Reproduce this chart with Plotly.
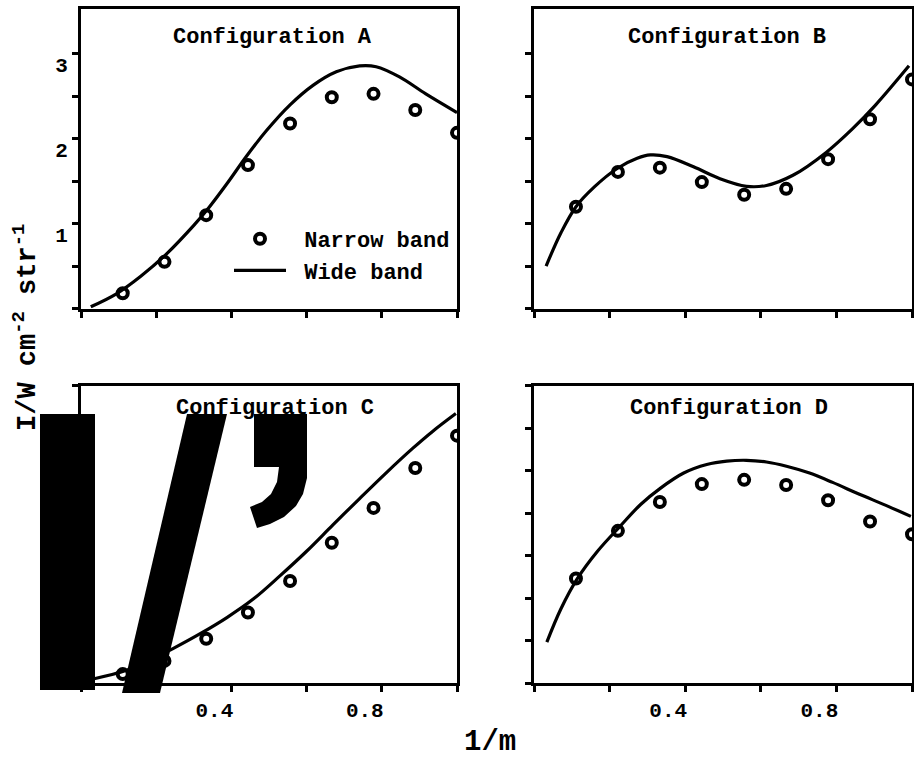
import plotly.graph_objects as go

# ---------------- data ----------------
x_pts = [0.111, 0.222, 0.333, 0.444, 0.556, 0.667, 0.778, 0.889, 1.0]

narrow_A = [0.18, 0.55, 1.10, 1.69, 2.18, 2.49, 2.53, 2.34, 2.07]
narrow_B = [1.20, 1.61, 1.66, 1.49, 1.34, 1.41, 1.76, 2.23, 2.70]
narrow_C = [0.105, 0.26, 0.52, 0.83, 1.20, 1.65, 2.06, 2.53, 2.91]
narrow_D = [1.23, 1.79, 2.13, 2.34, 2.39, 2.33, 2.15, 1.90, 1.75]

wide_A_x = [0.026, 0.093, 0.159, 0.229, 0.300, 0.335, 0.388, 0.441, 0.494,
            0.556, 0.617, 0.679, 0.741, 0.785, 0.847, 0.917, 1.0]
wide_A_y = [0.02, 0.17, 0.38, 0.65, 0.98, 1.16, 1.47, 1.80, 2.10,
            2.40, 2.63, 2.79, 2.86, 2.85, 2.73, 2.53, 2.31]

wide_B_x = [0.032, 0.071, 0.111, 0.159, 0.220, 0.273, 0.308, 0.352, 0.422,
            0.492, 0.562, 0.615, 0.685, 0.773, 0.843, 0.904, 0.992]
wide_B_y = [0.50, 0.89, 1.20, 1.43, 1.65, 1.77, 1.81, 1.79, 1.67,
            1.53, 1.44, 1.45, 1.57, 1.84, 2.12, 2.40, 2.86]

wide_C_x = [0.035, 0.115, 0.176, 0.247, 0.317, 0.388, 0.459, 0.529, 0.600,
            0.670, 0.741, 0.811, 0.882, 0.935, 0.997]
wide_C_y = [0.05, 0.14, 0.25, 0.41, 0.58, 0.77, 0.99, 1.26, 1.55,
            1.86, 2.17, 2.47, 2.76, 2.96, 3.17]

wide_D_x = [0.034, 0.071, 0.115, 0.168, 0.227, 0.282, 0.334, 0.396, 0.457,
            0.510, 0.562, 0.615, 0.668, 0.729, 0.790, 0.861, 0.931, 0.997]
wide_D_y = [0.48, 0.87, 1.23, 1.55, 1.84, 2.10, 2.29, 2.47, 2.57,
            2.61, 2.62, 2.60, 2.55, 2.47, 2.36, 2.22, 2.09, 1.96]

panel_titles = ["Configuration A", "Configuration B", "Configuration C", "Configuration D"]
series_names = [" Narrow band", " Wide band"]
x_tickvals = [0, 0.2, 0.4, 0.6, 0.8, 1.0]
x_ticktext = ["", "", "0.4", "", "0.8", ""]
y_tickvals_top = [0, 0.5, 1, 1.5, 2, 2.5, 3]
y_ticktext_top = ["", "", "1", "", "2", "", "3"]
y_tickvals_bottom = [0, 0.5, 1, 1.5, 2, 2.5, 3, 3.5]
y_title = "I/W cm<sup>-2</sup> str<sup>-1</sup>"
x_title = "1/m"

# ---------------- figure ----------------
W, H = 914, 759
FONT = "Liberation Mono"

def px(x):
    return x / W

def py(y):
    return 1 - y / H

fig = go.Figure()

panels = [
    ("x", "y", wide_A_x, wide_A_y, narrow_A),
    ("x2", "y2", wide_B_x, wide_B_y, narrow_B),
    ("x3", "y3", wide_C_x, wide_C_y, narrow_C),
    ("x4", "y4", wide_D_x, wide_D_y, narrow_D),
]
for i, (xa, ya, wx, wy, ny) in enumerate(panels):
    fig.add_trace(go.Scatter(
        x=wx, y=wy, mode="lines", xaxis=xa, yaxis=ya,
        line=dict(color="black", width=3.2, shape="spline", smoothing=1.0),
        name=series_names[1], showlegend=(i == 0), legendrank=2,
    ))
    fig.add_trace(go.Scatter(
        x=x_pts, y=ny, mode="markers", xaxis=xa, yaxis=ya,
        marker=dict(symbol="circle-open", size=10, color="black",
                    line=dict(width=4, color="black")),
        name=series_names[0], showlegend=(i == 0), legendrank=1,
    ))

tickfont = dict(family=FONT, size=21, color="black", weight="bold")

def xaxis(domain, labels, anchor):
    d = dict(domain=domain, range=[0, 1], tickvals=x_tickvals,
             ticks="outside", ticklen=6, tickwidth=2.5, tickcolor="black",
             showline=True, linewidth=3, linecolor="black", mirror=True,
             showgrid=False, zeroline=False, anchor=anchor, tickfont=tickfont)
    if labels:
        d.update(ticktext=x_ticktext, ticklabelshift=-17)
    else:
        d.update(showticklabels=False)
    return d

def yaxis(domain, rng, tickvals, ticktext, anchor):
    d = dict(domain=domain, range=rng, tickvals=tickvals,
             ticks="outside", ticklen=6, tickwidth=2.5, tickcolor="black",
             showline=True, linewidth=3, linecolor="black", mirror=True,
             showgrid=False, zeroline=False, anchor=anchor, tickfont=tickfont)
    if ticktext:
        d.update(ticktext=ticktext, ticklabelshift=11)
    else:
        d.update(showticklabels=False)
    return d

xl = [px(81), px(457)]
xr = [px(534), px(912)]
yt = [py(308.5), py(9)]
yb = [py(683), py(385.5)]

fig.update_layout(
    width=W, height=H,
    margin=dict(l=0, r=0, t=0, b=0),
    paper_bgcolor="white", plot_bgcolor="white",
    xaxis=xaxis(xl, False, "y"),
    yaxis=yaxis(yt, [0, 3.53], y_tickvals_top, y_ticktext_top, "x"),
    xaxis2=xaxis(xr, False, "y2"),
    yaxis2=yaxis(yt, [0, 3.53], y_tickvals_top, None, "x2"),
    xaxis3=xaxis(xl, True, "y3"),
    yaxis3=yaxis(yb, [0, 3.5], y_tickvals_bottom, None, "x3"),
    xaxis4=xaxis(xr, True, "y4"),
    yaxis4=yaxis(yb, [0, 3.5], y_tickvals_bottom, None, "x4"),
    showlegend=True,
    legend=dict(x=px(229), y=py(218), xanchor="left", yanchor="top",
                bgcolor="rgba(0,0,0,0)", borderwidth=0,
                font=dict(family=FONT, size=22, color="black", weight="bold"),
                itemwidth=52, tracegroupgap=0),
)

title_pos = [(272, 37), (727, 37), (275, 408), (729, 409)]
for t, (tx, ty) in zip(panel_titles, title_pos):
    fig.add_annotation(text=t, x=px(tx), y=py(ty), xref="paper", yref="paper",
                       xanchor="center", yanchor="middle", showarrow=False,
                       font=dict(family=FONT, size=22, color="black", weight="bold"))

fig.add_annotation(text=y_title, x=px(25), y=py(328), xref="paper", yref="paper",
                   xanchor="center", yanchor="middle", showarrow=False, textangle=-90,
                   font=dict(family=FONT, size=27, color="black", weight="bold"))
fig.add_annotation(text=x_title, x=px(490), y=py(742), xref="paper", yref="paper",
                   xanchor="center", yanchor="middle", showarrow=False,
                   font=dict(family=FONT, size=29, color="black", weight="bold"))

# large black printing blots over the lower-left panel
def path(points):
    s = "M " + " L ".join(f"{px(a):.5f},{py(b):.5f}" for a, b in points) + " Z"
    return s

blots = [
    [(40, 414), (95, 414), (95, 690), (40, 690)],
    [(187, 414), (227, 414), (160, 693), (122, 693)],
    [(254, 414), (307, 414), (307, 478), (303, 494), (296, 506), (284, 517),
     (270, 524), (257, 528), (250, 507), (262, 502), (271, 494), (277, 482),
     (279, 467), (254, 467)],
]
for b in blots:
    fig.add_shape(type="path", path=path(b), xref="paper", yref="paper",
                  fillcolor="black", line=dict(width=0), layer="above")

fig.write_html("out.html")
